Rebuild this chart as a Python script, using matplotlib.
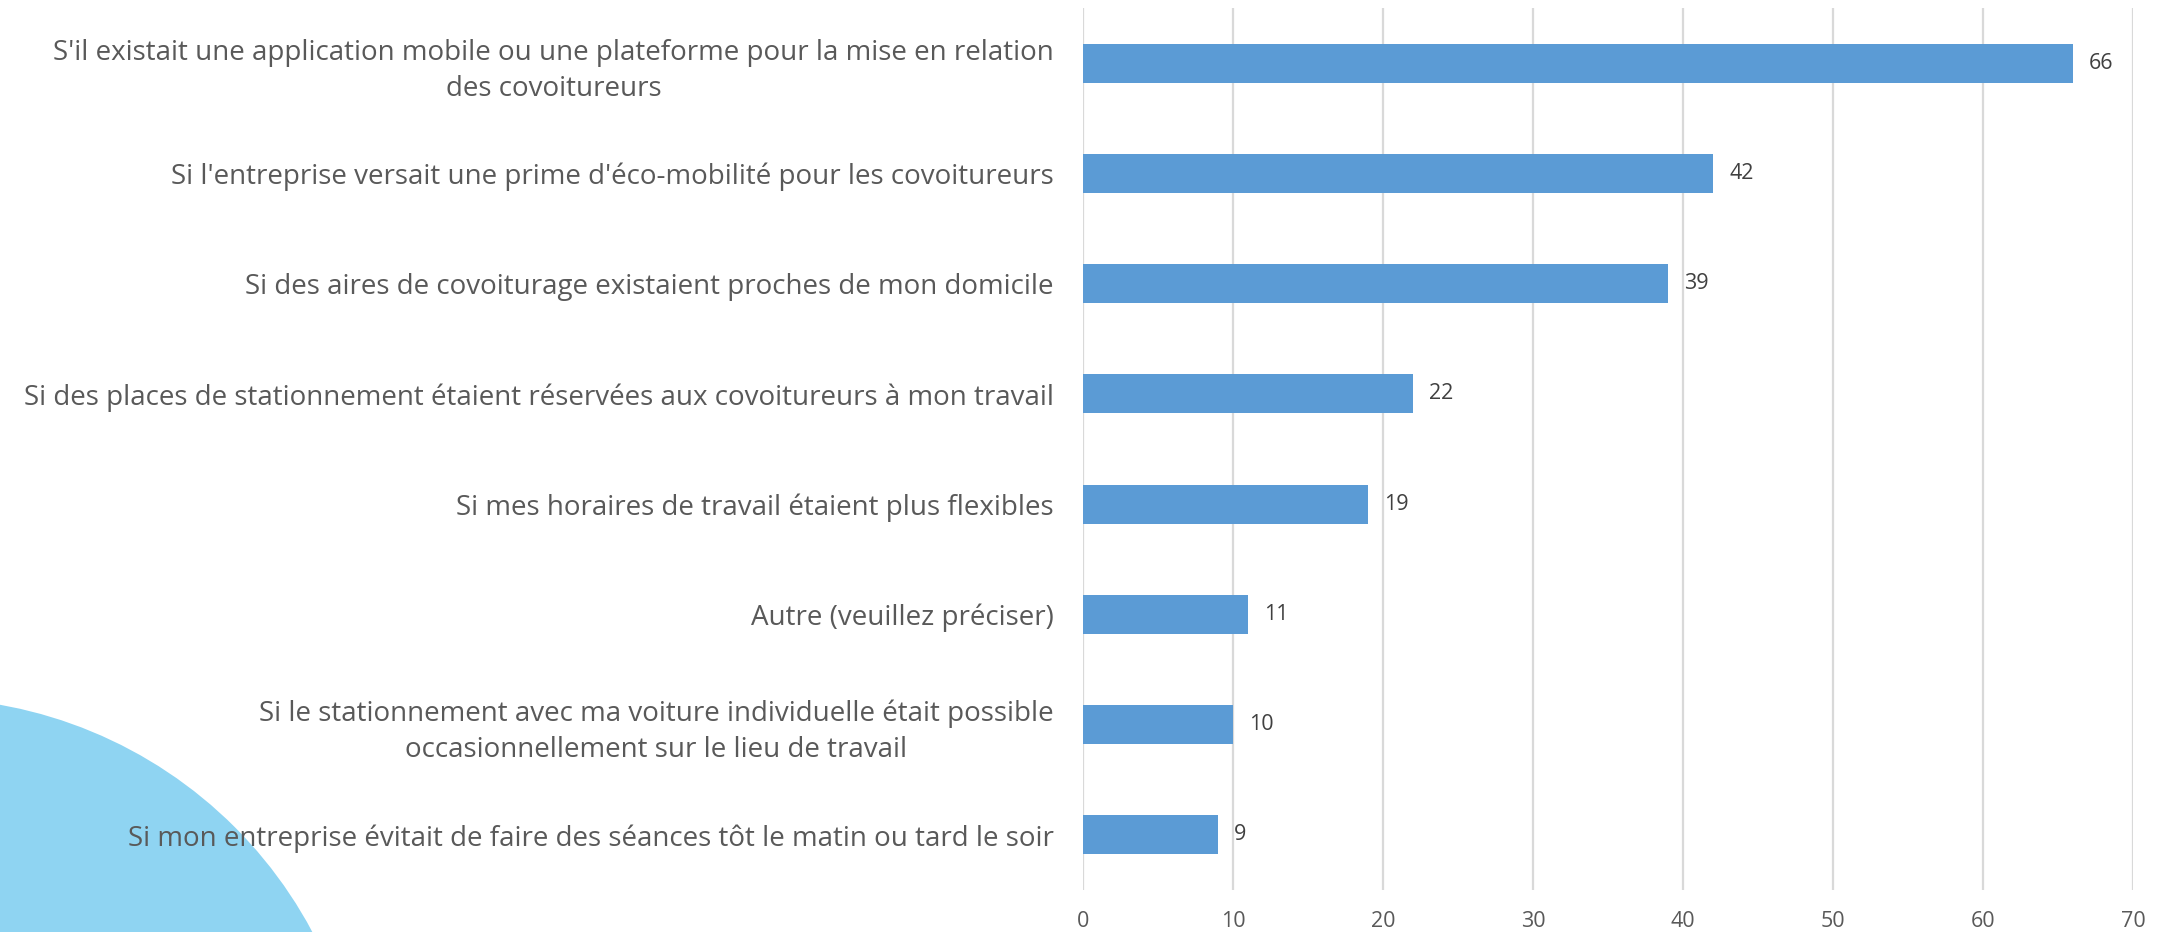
import matplotlib.pyplot as plt
from matplotlib.patches import Circle

plt.rcParams['font.family'] = ['Open Sans', 'DejaVu Sans']

categories = [
    "S'il existait une application mobile ou une plateforme pour la mise en relation\ndes covoitureurs",
    "Si l'entreprise versait une prime d'éco-mobilité pour les covoitureurs",
    "Si des aires de covoiturage existaient proches de mon domicile",
    "Si des places de stationnement étaient réservées aux covoitureurs à mon travail",
    "Si mes horaires de travail étaient plus flexibles",
    "Autre (veuillez préciser)",
    "Si le stationnement avec ma voiture individuelle était possible\noccasionnellement sur le lieu de travail",
    "Si mon entreprise évitait de faire des séances tôt le matin ou tard le soir",
]
values = [66, 42, 39, 22, 19, 11, 10, 9]
xticks = [0, 10, 20, 30, 40, 50, 60, 70]

BAR_COLOR = "#5b9bd5"
TEXT_COLOR = "#595959"
GRID_COLOR = "#d9d9d9"

fig = plt.figure(figsize=(21.59, 9.32), dpi=100)

# decorative disc in the lower-left corner, behind the labels
disc = Circle((-77, 932 - 1139), 441, transform=None, color="#8fd4f2",
              zorder=-1, linewidth=0)
fig.patches.append(disc)

ax = fig.add_axes([0.5016, 0.0451, 0.4864, 0.9463])
ax.patch.set_visible(False)

ypos = list(range(len(categories)))
bars = ax.barh(ypos, values, height=0.355, color=BAR_COLOR, zorder=3)

for y, v in zip(ypos, values):
    ax.annotate(str(v), (v, y), xytext=(16, 0), textcoords="offset pixels",
                ha="left", va="center", fontsize=15.5, color="#404040")

ax.set_xlim(0, 70)
ax.set_ylim(len(categories) - 0.5, -0.5)
ax.set_xticks(xticks)
ax.set_yticks(ypos)
ax.set_yticklabels(categories, fontsize=20, color=TEXT_COLOR,
                   multialignment="center", linespacing=1.38)
ax.set_xticklabels([str(t) for t in xticks], fontsize=15.5, color=TEXT_COLOR)
ax.tick_params(axis="y", length=0, pad=21)
ax.tick_params(axis="x", length=0, pad=15)

ax.grid(axis="x", color=GRID_COLOR, linewidth=1.6, zorder=0)
ax.set_axisbelow(True)
for s in ax.spines.values():
    s.set_visible(False)

fig.savefig("out.png", dpi=100)
